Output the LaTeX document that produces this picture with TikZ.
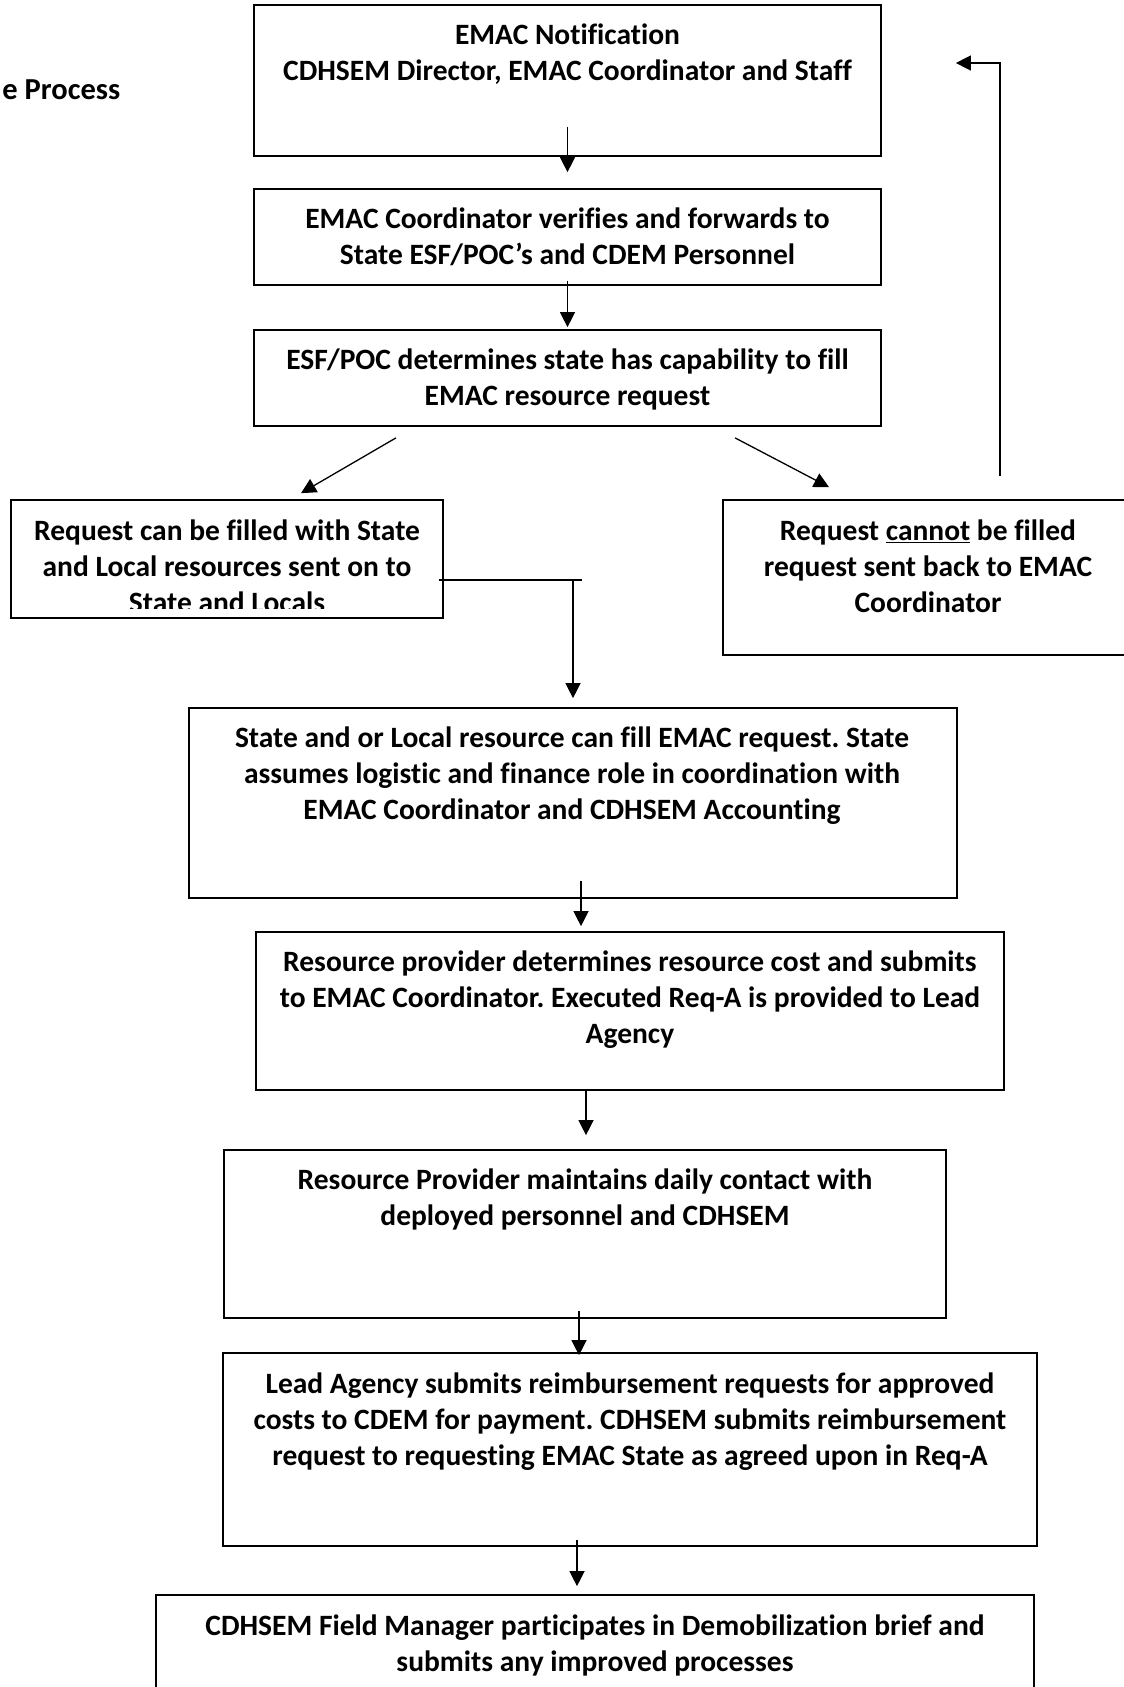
\documentclass[tikz,border=0pt]{standalone}
\usepackage{fontspec}
\setmainfont[Ligatures={NoCommon}]{Carlito}
\usetikzlibrary{arrows.meta}
\frenchspacing
\newcommand\fstrut{\rule{0pt}{24pt}}
\begin{document}
\begin{tikzpicture}[x=1pt,y=-1pt,
  boxn/.style={draw=black,line width=1.7pt,inner sep=0pt,rectangle},
  txt/.style={font=\bfseries\fontsize{29.5}{36}\selectfont,align=center,anchor=north,inner sep=0pt},
  arr/.style={line width=1.3pt,-{Triangle[length=15pt,width=15pt]}},
  plain/.style={line width=1.3pt}]
\clip (0,0) rectangle (1124,1687);
\fill[white] (0,0) rectangle (1124,1687);
% boxes: center, size
\node[boxn,minimum width=627pt,minimum height=151pt] (b1) at (567.5,80.5) {};
\node[boxn,minimum width=627pt,minimum height=96pt] (b2) at (567.5,237) {};
\node[boxn,minimum width=627pt,minimum height=96pt] (b3) at (567.5,378) {};
\node[boxn,minimum width=432pt,minimum height=118pt] (b4) at (227,559) {};
\node[boxn,minimum width=410pt,minimum height=155pt] (b5) at (928,577.5) {};
\node[boxn,minimum width=768pt,minimum height=190pt] (b6) at (573,803) {};
\node[boxn,minimum width=748pt,minimum height=158pt] (b7) at (630,1011) {};
\node[boxn,minimum width=722pt,minimum height=168pt] (b8) at (585,1234) {};
\node[boxn,minimum width=814pt,minimum height=193pt] (b9) at (630,1449.5) {};
\node[boxn,minimum width=878pt,minimum height=110pt] (b10) at (595,1650) {};
% texts
\node[font=\bfseries\fontsize{30.5}{36}\selectfont,anchor=base east,inner sep=0pt] (title) at (120.5,99) {e Process};
\node[txt] (t1) at (567.5,20.5) {\fstrut EMAC Notification\\CDHSEM Director, EMAC Coordinator and Staff};
\node[txt] (t2) at (567.5,204.5) {\fstrut EMAC Coordinator verifies and forwards to\\State ESF/POC’s and CDEM Personnel};
\node[txt] (t3) at (567.5,345.5) {\fstrut ESF/POC determines state has capability to fill\\EMAC resource request};
\begin{scope}
\clip (11,500) rectangle (443,608);
\node[txt] (t4) at (227,516.5) {\fstrut Request can be filled with State\\and Local resources sent on to\\State and Locals};
\end{scope}
\node[txt] (t5) at (928,516.5) {\fstrut Request \underline{cannot} be filled\\request sent back to EMAC\\Coordinator};
\node[txt] (t6) at (572,723.5) {\fstrut State and or Local resource can fill EMAC request. State\\assumes logistic and finance role in coordination with\\EMAC Coordinator and CDHSEM Accounting};
\node[txt] (t7) at (630,947.5) {\fstrut Resource provider determines resource cost and submits\\to EMAC Coordinator. Executed Req-A is provided to Lead\\Agency};
\node[txt] (t8) at (585,1165.5) {\fstrut Resource Provider maintains daily contact with\\deployed personnel and CDHSEM};
\node[txt] (t9) at (630,1369.5) {\fstrut Lead Agency submits reimbursement requests for approved\\costs to CDEM for payment. CDHSEM submits reimbursement\\request to requesting EMAC State as agreed upon in Req-A};
\node[txt] (t10) at (595,1611.5) {\fstrut CDHSEM Field Manager participates in Demobilization brief and\\submits any improved processes};
% connectors
\draw[arr] ([yshift=30pt]b1.south) -- ([yshift=16pt]b2.north);
\draw[arr] ([yshift=5pt]b2.south) -- ([yshift=2pt]b3.north);
\draw[arr] ([xshift=-171.5pt,yshift=-11pt]b3.south) -- ([xshift=74pt,yshift=6pt]b4.north);
\draw[arr] ([xshift=167.5pt,yshift=-11pt]b3.south) -- ([xshift=-99pt,yshift=12pt]b5.north);
\draw[arr] ([xshift=72pt,yshift=23pt]b5.north) |- ([xshift=74pt,yshift=17.5pt]b1.east);
\coordinate (j) at (582,580);
\draw[plain] ([xshift=-5pt,yshift=-21pt]b4.east) -- (j);
\draw[arr] (j -| b6.north) -- ([yshift=9pt]b6.north);
\draw[arr] ([xshift=8pt,yshift=18pt]b6.south) -- ([xshift=-49pt,yshift=5pt]b7.north);
\draw[arr] ([xshift=-44pt]b7.south) -- ([xshift=1pt,yshift=14pt]b8.north);
\draw[arr] ([xshift=-6pt,yshift=8pt]b8.south) -- ([xshift=-51pt,yshift=-3pt]b9.north);
\draw[arr] ([xshift=-53pt,yshift=7pt]b9.south) -- ([xshift=-18pt,yshift=8pt]b10.north);
\end{tikzpicture}
\end{document}
